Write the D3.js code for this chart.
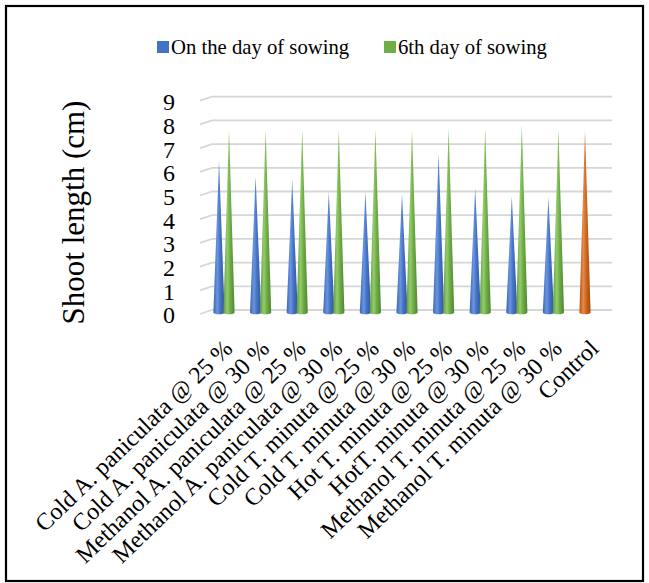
<!DOCTYPE html>
<html>
<head>
<meta charset="utf-8">
<script src="https://cdn.jsdelivr.net/npm/d3@7"></script>
<style>
  html, body { margin: 0; padding: 0; background: #fff; }
  svg { display: block; }
</style>
</head>
<body>
<script>
const categories = [
  "Cold A. paniculata @ 25 %", "Cold A. paniculata @ 30 %",
  "Methanol A. paniculata @ 25 %", "Methanol A. paniculata @ 30 %",
  "Cold T. minuta @ 25 %", "Cold T. minuta @ 30 %",
  "Hot T. minuta @ 25 %", "HotT. minuta @ 30 %",
  "Methanol T. minuta @ 25 %", "Methanol T. minuta @ 30 %", "Control"
];
const onDayOfSowing = [6.4, 5.75, 5.6, 5.1, 5.1, 5.0, 6.7, 5.25, 4.9, 4.85, null];
const sixthDayOfSowing = [7.7, 7.7, 7.7, 7.7, 7.7, 7.7, 7.75, 7.75, 7.9, 7.7, null];
const controlValues = [null, null, null, null, null, null, null, null, null, null, 7.7];
const seriesNames = ["On the day of sowing", "6th day of sowing"];
const yTicks = [0, 1, 2, 3, 4, 5, 6, 7, 8, 9];
const yTitle = "Shoot length (cm)";

const FONT = "'Liberation Serif', Tinos, 'Times New Roman', 'DejaVu Serif', serif";
const W = 649, H = 583;
const svg = d3.select("body").append("svg").attr("width", W).attr("height", H)
  .attr("font-family", FONT);

// border
svg.append("rect").attr("x", 6).attr("y", 6).attr("width", 637).attr("height", 575)
  .attr("fill", "#fff").attr("stroke", "#000").attr("stroke-width", 2.2);

const x = d3.scaleBand().domain(categories).range([205.7, 608.3]).padding(0);
const y = d3.scaleLinear().domain([0, 9]).range([310, 96.7]);
const cx = c => x(c) + x.bandwidth() / 2;

// gradients
const defs = svg.append("defs");
function grad(id, dark, mid, light, edge) {
  const g = defs.append("linearGradient").attr("id", id).attr("x1", "0").attr("x2", "1").attr("y1", "0").attr("y2", "0");
  g.append("stop").attr("offset", "0%").attr("stop-color", dark);
  g.append("stop").attr("offset", "35%").attr("stop-color", light);
  g.append("stop").attr("offset", "60%").attr("stop-color", mid);
  g.append("stop").attr("offset", "100%").attr("stop-color", edge);
}
grad("gBlue", "#3b64b2", "#4673c6", "#6a95e0", "#2f559c");
grad("gGreen", "#5f9a3b", "#70ad47", "#93cc6c", "#4f8431");
grad("gOrange", "#b4520f", "#cf6720", "#e88a4a", "#9e470c");

// gridlines (back wall + slanted floor edge)
const grid = svg.append("g");
yTicks.forEach(t => {
  const yy = y(t);
  grid.append("path")
    .attr("d", `M200,${yy + 4} L212,${yy} L612,${yy}`)
    .attr("fill", "none").attr("stroke", "#d6d6d6").attr("stroke-width", 1.8);
});

// y tick labels
svg.append("g").selectAll("text").data(yTicks).join("text")
  .attr("font-family", FONT)
  .attr("x", 175).attr("y", d => y(d) + 5).attr("dy", "0.35em")
  .attr("text-anchor", "end").attr("font-size", 24).text(d => d);

// y title
svg.append("text")
  .attr("font-family", FONT)
  .attr("transform", "translate(83.5,212.5) rotate(-90)")
  .attr("text-anchor", "middle").attr("font-size", 31).text(yTitle);

// cones
const base = y(0) + 2.5;
const halfW = 5.6, ry = 1.8;
function conePath(xc, v) {
  const tip = base - (y(0) - y(v));
  return `M${xc - halfW},${base} L${xc},${tip} L${xc + halfW},${base} A${halfW},${ry} 0 0 1 ${xc - halfW},${base} Z`;
}
const series = [
  { values: onDayOfSowing, offset: -5, fill: "url(#gBlue)" },
  { values: sixthDayOfSowing, offset: 5, fill: "url(#gGreen)" },
  { values: controlValues, offset: -5, fill: "url(#gOrange)" }
];
series.forEach(s => {
  svg.append("g").selectAll("path")
    .data(categories.map((c, i) => ({ c, v: s.values[i] })).filter(d => d.v != null))
    .join("path")
    .attr("d", d => conePath(cx(d.c) + s.offset, d.v))
    .attr("fill", s.fill);
});

// x labels
svg.append("g").selectAll("text").data(categories).join("text")
  .attr("font-family", FONT)
  .attr("transform", d => `translate(${cx(d) + 10},350) rotate(-44)`)
  .attr("text-anchor", "end").attr("font-size", 24).text(d => d);

// legend
const legend = svg.append("g");
const legItems = [
  { name: seriesNames[0], color: "#4472c4", sx: 157, tx: 171 },
  { name: seriesNames[1], color: "#70ad47", sx: 384, tx: 398 }
];
legItems.forEach(l => {
  legend.append("rect").attr("x", l.sx).attr("y", 41).attr("width", 12).attr("height", 12).attr("fill", l.color);
  legend.append("text").attr("font-family", FONT).attr("x", l.tx).attr("y", 53.5).attr("font-size", 20.7).text(l.name);
});
</script>
</body>
</html>
